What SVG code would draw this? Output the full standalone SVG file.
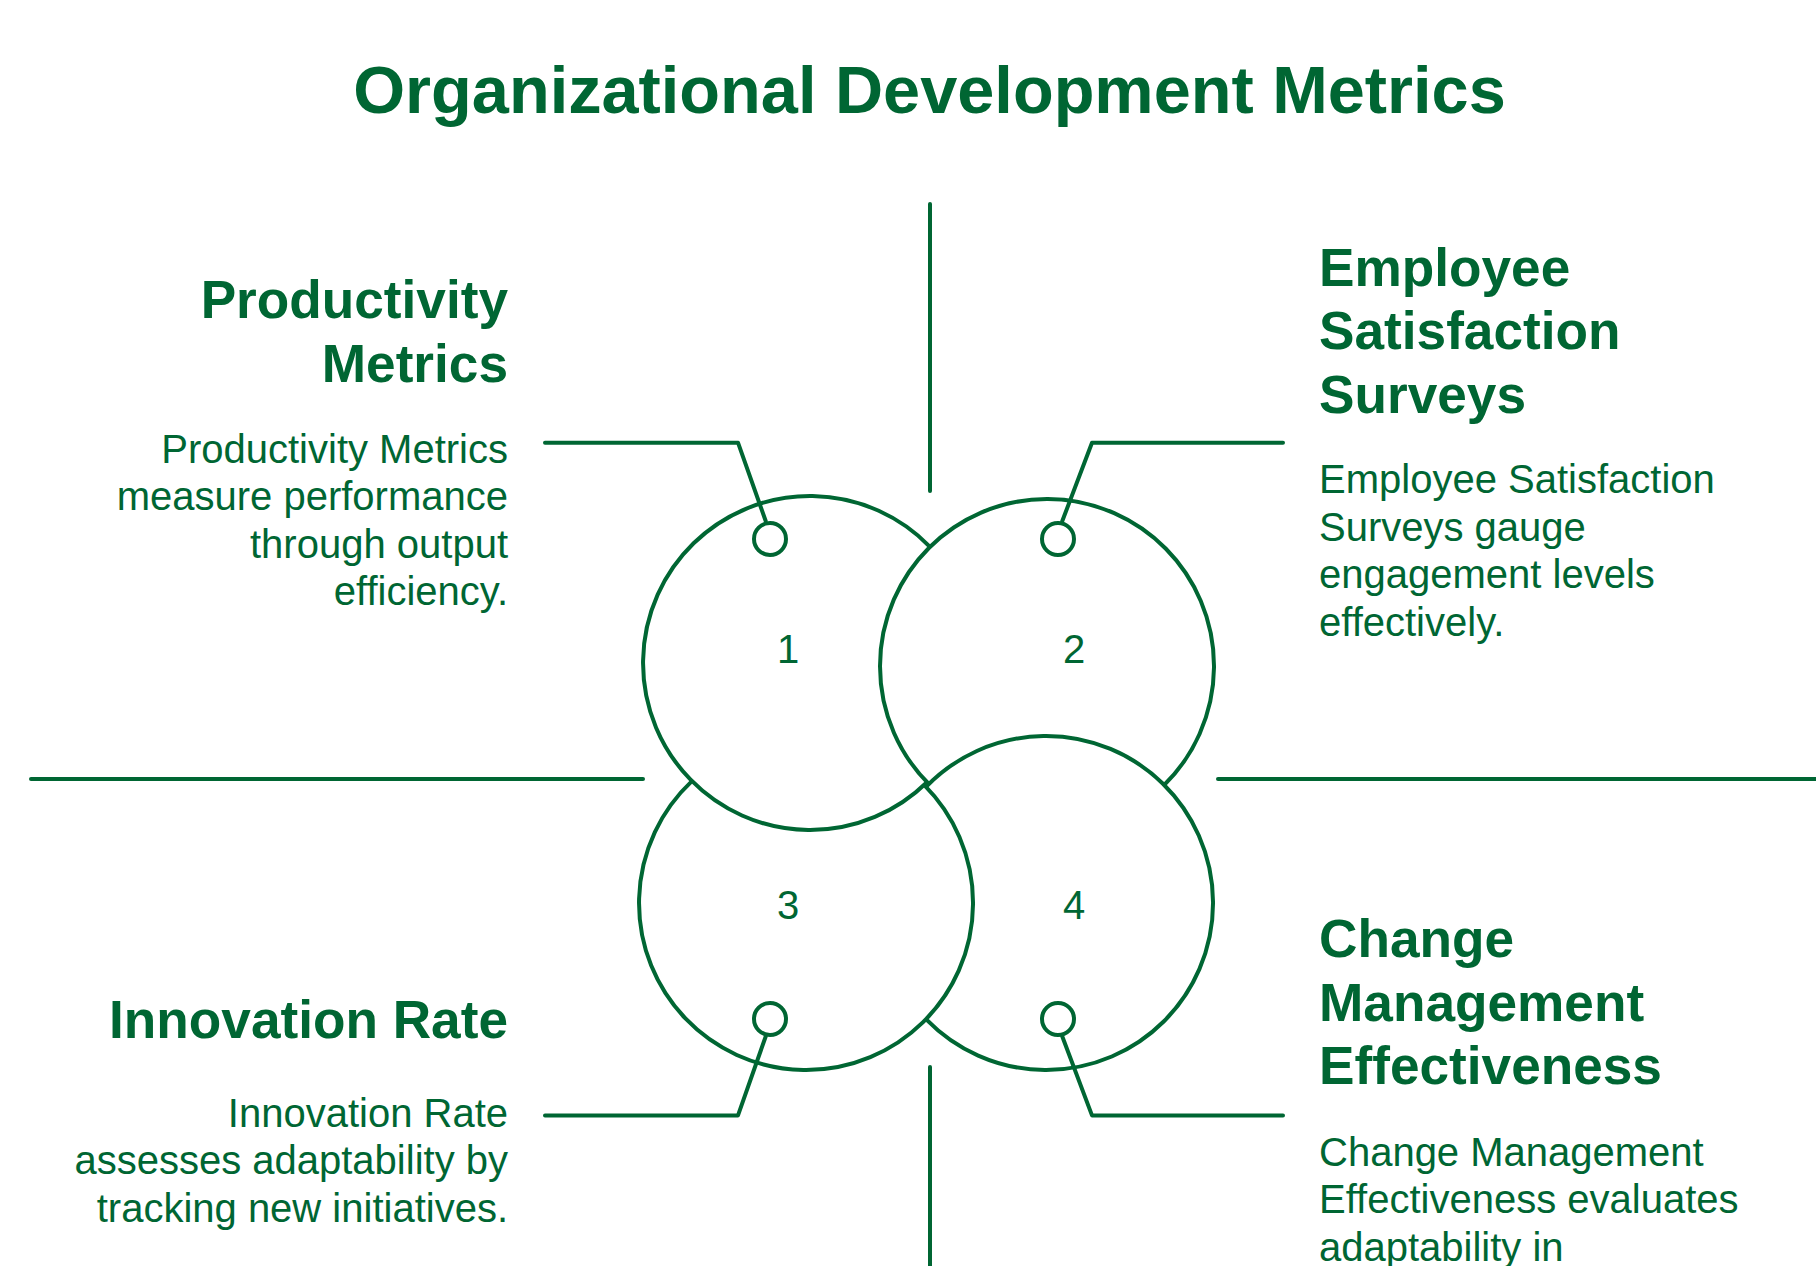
<svg xmlns="http://www.w3.org/2000/svg" width="1816" height="1266" viewBox="0 0 1816 1266">
<style>
  text { font-family: "Liberation Sans", Arial, sans-serif; fill: #006633; }
  .title { font-size: 66.7px; font-weight: bold; }
  .head { font-size: 53.2px; font-weight: bold; }
  .desc { font-size: 40px; }
  .num { font-size: 40px; text-anchor: middle; }
  .arc { fill: none; stroke: #006633; stroke-width: 4; }
  .line { fill: none; stroke: #006633; stroke-width: 4; stroke-linecap: round; stroke-linejoin: round; }
  .dot { fill: #ffffff; stroke: #006633; stroke-width: 4; }
</style>
<rect width="1816" height="1266" fill="#ffffff"/>

<text class="title" x="929.5" y="113" text-anchor="middle">Organizational Development Metrics</text>

<g id="dividers">
  <line class="line" x1="930" y1="204" x2="930" y2="491"/>
  <line class="line" x1="930" y1="1067" x2="930" y2="1270"/>
  <line class="line" x1="31" y1="779" x2="643" y2="779"/>
  <line class="line" x1="1218" y1="779" x2="1820" y2="779"/>
</g>

<g id="circle-1">
  <path class="arc" d="M 930 546.8 A 167 167 0 1 0 927 782.2"/>
  <text class="num" x="788" y="663">1</text>
</g>
<g id="circle-2">
  <path class="arc" d="M 929.3 784.5 A 167 167 0 1 1 1163.7 785.5"/>
  <text class="num" x="1074" y="663">2</text>
</g>
<g id="circle-3">
  <path class="arc" d="M 691.9 781.1 A 167 167 0 1 0 924.1 784.9"/>
  <text class="num" x="788" y="919">3</text>
</g>
<g id="circle-4">
  <path class="arc" d="M 925.5 787.4 A 167 167 0 1 1 926.5 1019.6"/>
  <text class="num" x="1074" y="919">4</text>
</g>

<g id="connectors">
  <polyline class="line" points="545,442.7 738,442.7 765.7,521"/>
  <polyline class="line" points="1283,442.7 1092,442.7 1062.3,521"/>
  <polyline class="line" points="545,1115.4 738,1115.4 765.7,1036.5"/>
  <polyline class="line" points="1283,1115.4 1092,1115.4 1062.3,1036.5"/>
  <circle class="dot" cx="770" cy="539" r="16"/>
  <circle class="dot" cx="1058" cy="539" r="16"/>
  <circle class="dot" cx="770" cy="1019" r="16"/>
  <circle class="dot" cx="1058" cy="1019" r="16"/>
</g>

<g id="productivity-metrics" text-anchor="end">
  <text class="head" x="508" y="318.3">Productivity</text>
  <text class="head" x="508" y="381.7">Metrics</text>
  <text class="desc" x="508" y="462.7">Productivity Metrics</text>
  <text class="desc" x="508" y="510.2">measure performance</text>
  <text class="desc" x="508" y="557.7">through output</text>
  <text class="desc" x="508" y="605.2">efficiency.</text>
</g>

<g id="employee-satisfaction-surveys">
  <text class="head" x="1319" y="286">Employee</text>
  <text class="head" x="1319" y="349.4">Satisfaction</text>
  <text class="head" x="1319" y="412.8">Surveys</text>
  <text class="desc" x="1319" y="493.3">Employee Satisfaction</text>
  <text class="desc" x="1319" y="540.8">Surveys gauge</text>
  <text class="desc" x="1319" y="588.3">engagement levels</text>
  <text class="desc" x="1319" y="635.8">effectively.</text>
</g>

<g id="innovation-rate" text-anchor="end">
  <text class="head" x="508" y="1037.7">Innovation Rate</text>
  <text class="desc" x="508" y="1126.7">Innovation Rate</text>
  <text class="desc" x="508" y="1174.2">assesses adaptability by</text>
  <text class="desc" x="508" y="1221.7">tracking new initiatives.</text>
</g>

<g id="change-management-effectiveness">
  <text class="head" x="1319" y="957.3">Change</text>
  <text class="head" x="1319" y="1020.7">Management</text>
  <text class="head" x="1319" y="1084.1">Effectiveness</text>
  <text class="desc" x="1319" y="1165.7">Change Management</text>
  <text class="desc" x="1319" y="1213.2">Effectiveness evaluates</text>
  <text class="desc" x="1319" y="1260.7">adaptability in</text>
</g>
</svg>
